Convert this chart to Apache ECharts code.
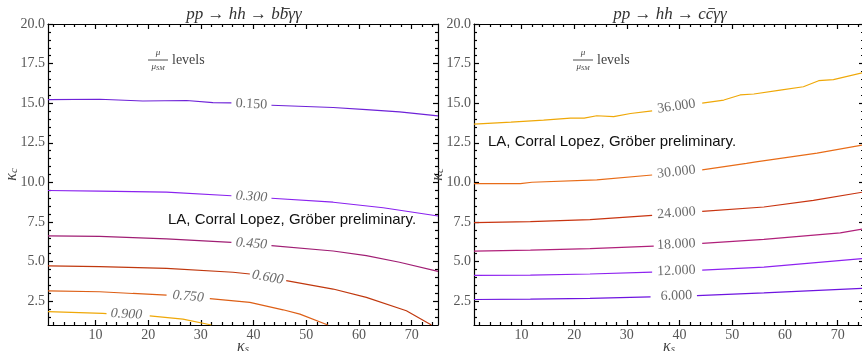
<!DOCTYPE html>
<html>
<head>
<meta charset="utf-8">
<script src="https://cdn.jsdelivr.net/npm/echarts@6/dist/echarts.min.js"></script>
<style>
  html, body { margin: 0; padding: 0; background: #fff; }
  #chart { width: 862px; height: 351px; }
</style>
</head>
<body>
<div id="chart"></div>
<script>
// Axis ranges and tick values (κ_s horizontal, κ_c vertical)
const ksRange = [1, 75];
const kcRange = [1, 20];
const ksTicks = [10, 20, 30, 40, 50, 60, 70];
const kcTicks = [2.5, 5, 7.5, 10, 12.5, 15, 17.5, 20];

// Contour levels of mu / mu_SM
const bbLevels = [0.15, 0.30, 0.45, 0.60, 0.75, 0.90];
const ccLevels = [6, 12, 18, 24, 30, 36];

// pp -> hh -> b bbar gamma gamma : contour paths [κ_s, κ_c]; null marks the label gap
const bb015 = [[1, 15.23], [10.8, 15.25], [19.0, 15.14], [27.3, 15.17], [32.3, 15.04], [35.8, 15.02], null,
               [43.4, 14.87], [55.1, 14.73], [61.4, 14.6], [67.7, 14.45], [75, 14.2]];
const bb030 = [[1, 9.49], [10.8, 9.45], [23.5, 9.39], [35.8, 9.16], null,
               [43.4, 9.0], [55.1, 8.75], [64.6, 8.4], [75, 7.88]];
const bb045 = [[1, 6.63], [10.8, 6.6], [23.5, 6.44], [35.8, 6.22], null,
               [43.4, 6.01], [55.1, 5.67], [61.4, 5.38], [67.7, 4.96], [75, 4.39]];
const bb060 = [[1, 4.73], [10.8, 4.69], [23.5, 4.58], [36.1, 4.33], [39.3, 4.22], null,
               [46.2, 3.8], [55.1, 3.27], [61.4, 2.74], [69.0, 1.9], [73.75, 1.0]];
const bb075 = [[1, 3.16], [10.8, 3.1], [17.1, 2.99], [23.5, 2.89], null,
               [31.7, 2.66], [39.3, 2.43], [45.6, 1.96], [48.8, 1.69], [54.1, 1.0]];
const bb090 = [[1, 1.85], [11.4, 1.73], [12.1, 1.72], null,
               [20.3, 1.58], [26.6, 1.37], [32.0, 1.0]];

// pp -> hh -> c cbar gamma gamma
const cc06 = [[1, 2.61], [11.7, 2.63], [23, 2.68], [34.5, 2.78], null,
              [43.3, 2.86], [56, 3.03], [75, 3.32]];
const cc12 = [[1, 4.13], [11.7, 4.15], [23, 4.22], [34.8, 4.34], null,
              [44.3, 4.46], [56, 4.65], [75, 5.2]];
const cc18 = [[1, 5.66], [11.7, 5.73], [23, 5.82], [35.1, 5.98], null,
              [44.3, 6.15], [56, 6.4], [70.5, 6.82], [75, 7.08]];
const cc24 = [[1, 7.46], [11.7, 7.52], [23, 7.65], [34.8, 7.92], null,
              [44.3, 8.17], [56, 8.45], [65.4, 8.87], [75, 9.4]];
const cc30 = [[1, 9.92], [9.8, 9.93], [12, 10.01], [24.3, 10.16], [34.8, 10.47], null,
              [44.3, 10.79], [52.7, 11.2], [54.5, 11.3], [66.1, 11.85], [75, 12.37]];
const cc36 = [[1, 13.68], [8, 13.8], [14.2, 13.93], [19.3, 14.06], [21.9, 14.06], [24.3, 14.21],
              [27.5, 14.15], [30.7, 14.35], [34.8, 14.52], null,
              [44.3, 15.01], [48.4, 15.2], [51.5, 15.52], [54.1, 15.58], [59.1, 15.83],
              [63.5, 16.04], [66.4, 16.42], [69.2, 16.49], [75, 16.95]];

// Where each contour's value label sits, and its tilt along the curve
const bbLabelAt = [[39.6, 14.94], [39.6, 9.1], [39.6, 6.13], [42.7, 4.0], [27.6, 2.8], [15.9, 1.68]];
const bbLabelTilt = [-3, -3.5, -4.5, -10, -5, -3];
const ccLabelAt = [[39.4, 2.84], [39.4, 4.42], [39.4, 6.09], [39.4, 8.07], [39.4, 10.66], [39.4, 14.8]];
const ccLabelTilt = [1.5, 2.2, 3, 4.5, 6, 8.5];

const bbColors = ['#6e22d8', '#8a22ef', '#a01e74', '#c0380e', '#dd5f16', '#efa808'];
const ccColors = ['#6e14e0', '#8e22f0', '#b0207a', '#c83410', '#e86c18', '#efa808'];

const serif = '"Liberation Serif", "DejaVu Serif", serif';
const sans = '"Liberation Sans", Arial, sans-serif';
const black = { color: '#000', width: 1.2 };

const minorKs = [];
for (let v = 2; v < 75; v += 2) if (v % 10 !== 0) minorKs.push(v);
const minorKc = [];
for (let v = 1.5; v < 20; v += 0.5) if (Math.abs(v / 2.5 - Math.round(v / 2.5)) > 1e-9) minorKc.push(v);

const kappaName = () => ({
  rich: {
    k: { fontFamily: serif, fontStyle: 'italic', fontSize: 16, color: '#444' },
    s: { fontFamily: serif, fontStyle: 'italic', fontSize: 11, color: '#444', padding: [6, 0, 0, 0] }
  }
});

function xAxesFor(g) {
  const base = { type: 'value', gridIndex: g, min: ksRange[0], max: ksRange[1], splitLine: { show: false } };
  return [
    Object.assign({}, base, {
      position: 'bottom',
      axisLine: { show: true, onZero: false, lineStyle: black },
      axisTick: { show: true, inside: true, length: 5, customValues: ksTicks, lineStyle: black },
      axisLabel: { show: true, customValues: ksTicks, margin: 3, color: '#555', fontFamily: serif, fontSize: 14 },
      name: '{k|κ}{s|s}', nameLocation: 'middle', nameGap: 13, nameMoveOverlap: false,
      nameTextStyle: Object.assign(kappaName(), { verticalAlign: 'top' })
    }),
    Object.assign({}, base, {
      position: 'bottom',
      axisLine: { show: false, onZero: false },
      axisTick: { show: true, inside: true, length: 3, customValues: minorKs, lineStyle: black },
      axisLabel: { show: false }
    }),
    Object.assign({}, base, {
      position: 'top',
      axisLine: { show: true, onZero: false, lineStyle: black },
      axisTick: { show: true, inside: true, length: 5, customValues: ksTicks, lineStyle: black },
      axisLabel: { show: false }
    }),
    Object.assign({}, base, {
      position: 'top',
      axisLine: { show: false, onZero: false },
      axisTick: { show: true, inside: true, length: 3, customValues: minorKs, lineStyle: black },
      axisLabel: { show: false }
    })
  ];
}

function yAxesFor(g) {
  const base = { type: 'value', gridIndex: g, min: kcRange[0], max: kcRange[1], splitLine: { show: false } };
  return [
    Object.assign({}, base, {
      position: 'left',
      axisLine: { show: true, onZero: false, lineStyle: black },
      axisTick: { show: true, inside: true, length: 5, customValues: kcTicks, lineStyle: black },
      axisLabel: { show: true, customValues: kcTicks, margin: 3, color: '#555', fontFamily: serif, fontSize: 14,
                   formatter: (v) => v.toFixed(1) },
      name: '{k|κ}{s|c}', nameLocation: 'middle', nameGap: 28, nameRotate: 90, nameMoveOverlap: false,
      nameTextStyle: kappaName()
    }),
    Object.assign({}, base, {
      position: 'left',
      axisLine: { show: false, onZero: false },
      axisTick: { show: true, inside: true, length: 3, customValues: minorKc, lineStyle: black },
      axisLabel: { show: false }
    }),
    Object.assign({}, base, {
      position: 'right',
      axisLine: { show: true, onZero: false, lineStyle: black },
      axisTick: { show: true, inside: true, length: 5, customValues: kcTicks, lineStyle: black },
      axisLabel: { show: false }
    }),
    Object.assign({}, base, {
      position: 'right',
      axisLine: { show: false, onZero: false },
      axisTick: { show: true, inside: true, length: 3, customValues: minorKc, lineStyle: black },
      axisLabel: { show: false }
    })
  ];
}

// Break a contour path at its label gap
function pieces(path) {
  const out = [[]];
  path.forEach((p) => { if (p === null) out.push([]); else out[out.length - 1].push(p); });
  return out.filter((s) => s.length > 1);
}

function contourSeries(g, paths, colors) {
  const list = [];
  paths.forEach((path, i) => {
    pieces(path).forEach((seg) => {
      list.push({
        type: 'line', xAxisIndex: g * 4, yAxisIndex: g * 4, data: seg,
        symbol: 'none', clip: true, silent: true,
        lineStyle: { color: colors[i], width: 1.2 }
      });
    });
  });
  return list;
}

function labelSeries(g, levels, at, tilt, fmt, italicFrom) {
  return {
    type: 'scatter', xAxisIndex: g * 4, yAxisIndex: g * 4, symbolSize: 0, silent: true,
    data: levels.map((lv, i) => ({
      value: at[i],
      label: {
        show: true, position: 'inside', rotate: tilt[i], formatter: fmt(lv),
        fontStyle: i >= italicFrom ? 'italic' : 'normal'
      }
    })),
    label: { color: '#444', fontFamily: serif, fontSize: 14 }
  };
}

// Process title "pp → hh → q q̄ γγ", with a bar drawn over the antiquark
const titleFont = 'italic 17px ' + serif;
const measure = document.createElement('canvas').getContext('2d');
measure.font = titleFont;
function processTitle(cx, quark) {
  const head = 'pp → hh → ' + quark;
  const tail = 'γγ';
  const wHead = measure.measureText(head).width;
  const wQ = measure.measureText(quark).width;
  const wTail = measure.measureText(tail).width;
  const x0 = cx - (wHead + wQ + wTail) / 2;
  const style = (t) => ({ text: t, font: titleFont, fill: '#333', verticalAlign: 'middle' });
  return {
    type: 'group', x: x0, y: 15,
    children: [
      { type: 'text', x: 0, y: 0, style: style(head) },
      { type: 'text', x: wHead, y: 0, style: style(quark) },
      { type: 'line', shape: { x1: wHead + 2.5, y1: -6.5, x2: wHead + wQ + 1.5, y2: -6.5 }, style: { stroke: '#333', lineWidth: 0.9 } },
      { type: 'text', x: wHead + wQ, y: 0, style: style(tail) }
    ]
  };
}

const chart = echarts.init(document.getElementById('chart'), null, { renderer: 'canvas' });

const levelsNote = (x) => ({
  type: 'group', x: x, y: 0,
  children: [
    { type: 'text', x: 10, y: 53, style: { text: 'μ', font: 'italic 9px ' + serif, fill: '#444', align: 'center', verticalAlign: 'middle' } },
    { type: 'line', shape: { x1: 0, y1: 60, x2: 20, y2: 60 }, style: { stroke: '#222', lineWidth: 0.8 } },
    { type: 'text', x: 10, y: 67, style: {
        text: '{m|μ}{s|SM}', align: 'center', verticalAlign: 'middle',
        rich: { m: { font: 'italic 9px ' + serif, fill: '#444' }, s: { font: 'italic 6.5px ' + serif, fill: '#444', padding: [3, 0, 0, 0] } }
      } },
    { type: 'text', x: 24, y: 60, style: { text: 'levels', font: '14px ' + serif, fill: '#444', verticalAlign: 'middle' } }
  ]
});

chart.setOption({
  animation: false,
  backgroundColor: '#fff',
  grid: [
    { left: 48, top: 24, width: 390, height: 301, outerBoundsMode: 'none', containLabel: false },
    { left: 474, top: 24, width: 390, height: 301, outerBoundsMode: 'none', containLabel: false }
  ],
  xAxis: xAxesFor(0).concat(xAxesFor(1)),
  yAxis: yAxesFor(0).concat(yAxesFor(1)),
  series: [].concat(
    contourSeries(0, [bb015, bb030, bb045, bb060, bb075, bb090], bbColors),
    contourSeries(1, [cc06, cc12, cc18, cc24, cc30, cc36], ccColors),
    [
      labelSeries(0, bbLevels, bbLabelAt, bbLabelTilt, (v) => v.toFixed(3), 1),
      labelSeries(1, ccLevels, ccLabelAt, ccLabelTilt, (v) => v.toFixed(3), 99)
    ]
  ),
  graphic: [
    processTitle(244, 'b'),
    processTitle(670, 'c'),
    levelsNote(148),
    levelsNote(573),
    { type: 'text', x: 168, y: 220, z: 10, style: { text: 'LA, Corral Lopez, Gröber preliminary.', font: '15px ' + sans, fill: '#111', verticalAlign: 'middle' } },
    { type: 'text', x: 488, y: 142, z: 10, style: { text: 'LA, Corral Lopez, Gröber preliminary.', font: '15px ' + sans, fill: '#111', verticalAlign: 'middle' } }
  ]
});
</script>
</body>
</html>
